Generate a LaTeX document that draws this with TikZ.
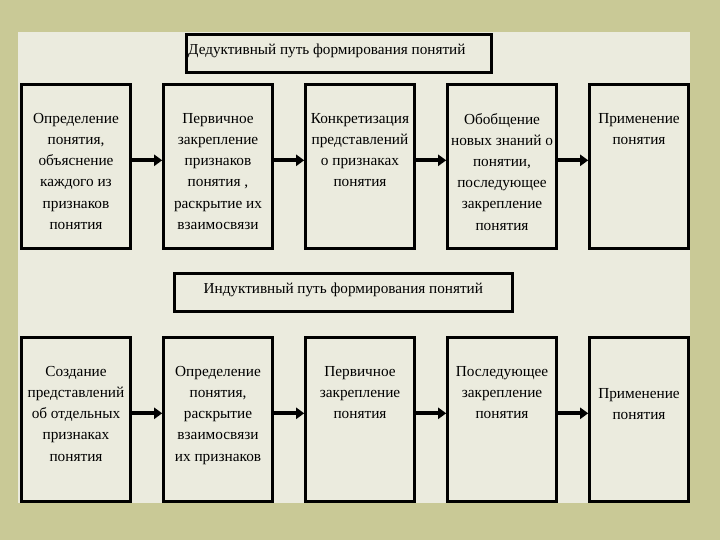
\documentclass[tikz,border=0pt]{standalone}
\usepackage{fontspec}
\setmainfont{Liberation Serif}
\usepackage{tikz}
\usetikzlibrary{arrows.meta,positioning}
\definecolor{olivebg}{HTML}{C9C996}
\definecolor{panelbg}{HTML}{EBEBDE}
\tikzset{
  stagebox/.style={draw, line width=2.6pt, fill=panelbg, inner sep=0pt,
               minimum width=109pt, minimum height=164pt},
  lastbox/.style={stagebox, minimum width=99pt},
  headbox/.style={draw, line width=2.6pt, fill=panelbg, inner sep=0pt,
               minimum height=38pt},
  stxt/.style={align=center, inner sep=0pt, anchor=north,
               font=\fontsize{15.3}{21.2}\selectfont},
  htxt/.style={inner sep=0pt, font=\fontsize{15.2}{17}\selectfont},
  flow/.style={-{Triangle[length=8pt,width=11pt]}, line width=3.8pt},
}
\begin{document}
\begin{tikzpicture}[x=1pt, y=-1pt, node distance=30.4pt]
  \fill[olivebg] (0,0) rectangle (720,540);
  \fill[panelbg] (18,32) rectangle (690,503);
  % deductive way
  \node[headbox, minimum width=305pt, anchor=north west] (dhead) at (185,33) {};
  \node[htxt, anchor=west] (dtitle) at (188,51) {Дедуктивный путь формирования понятий};
  \node[stagebox, anchor=north west] (d1) at (20.2,83) {};
  \node[stagebox, right=of d1] (d2) {};
  \node[stagebox, right=of d2] (d3) {};
  \node[stagebox, right=of d3] (d4) {};
  \node[lastbox, right=of d4] (d5) {};
  \node[stxt, below=30pt of d1.north] (td1) {Определение\\понятия,\\объяснение\\каждого из\\признаков\\понятия};
  \node[stxt, below=30pt of d2.north] (td2) {Первичное\\закрепление\\признаков\\понятия ,\\раскрытие их\\взаимосвязи};
  \node[stxt, below=30pt of d3.north] (td3) {Конкретизация\\представлений\\о признаках\\понятия};
  \node[stxt, below=30pt of d4.north] (td4) {Обобщение\\новых знаний о\\понятии,\\последующее\\закрепление\\понятия};
  \node[stxt, below=30pt of d5.north] (td5) {Применение\\понятия};
  \foreach \a/\b in {d1/d2, d2/d3, d3/d4, d4/d5}
    \draw[flow] ([yshift=6pt]\a.east) -- ([yshift=6pt]\b.west);
  % inductive way
  \node[headbox, minimum width=338pt, anchor=north west] (ihead) at (173,272) {};
  \node[htxt] (ititle) at ([yshift=2pt]ihead.center) {Индуктивный путь формирования понятий};
  \node[stagebox, anchor=north west] (i1) at (20.2,336) {};
  \node[stagebox, right=of i1] (i2) {};
  \node[stagebox, right=of i2] (i3) {};
  \node[stagebox, right=of i3] (i4) {};
  \node[lastbox, right=of i4] (i5) {};
  \node[stxt, below=30pt of i1.north] (ti1) {Создание\\представлений\\об отдельных\\признаках\\понятия};
  \node[stxt, below=30pt of i2.north] (ti2) {Определение\\понятия,\\раскрытие\\взаимосвязи\\их признаков};
  \node[stxt, below=30pt of i3.north] (ti3) {Первичное\\закрепление\\понятия};
  \node[stxt, below=30pt of i4.north] (ti4) {Последующее\\закрепление\\понятия};
  \node[stxt, below=52pt of i5.north] (ti5) {Применение\\понятия};
  \foreach \a/\b in {i1/i2, i2/i3, i3/i4, i4/i5}
    \draw[flow] ([yshift=6pt]\a.east) -- ([yshift=6pt]\b.west);
\end{tikzpicture}
\end{document}
